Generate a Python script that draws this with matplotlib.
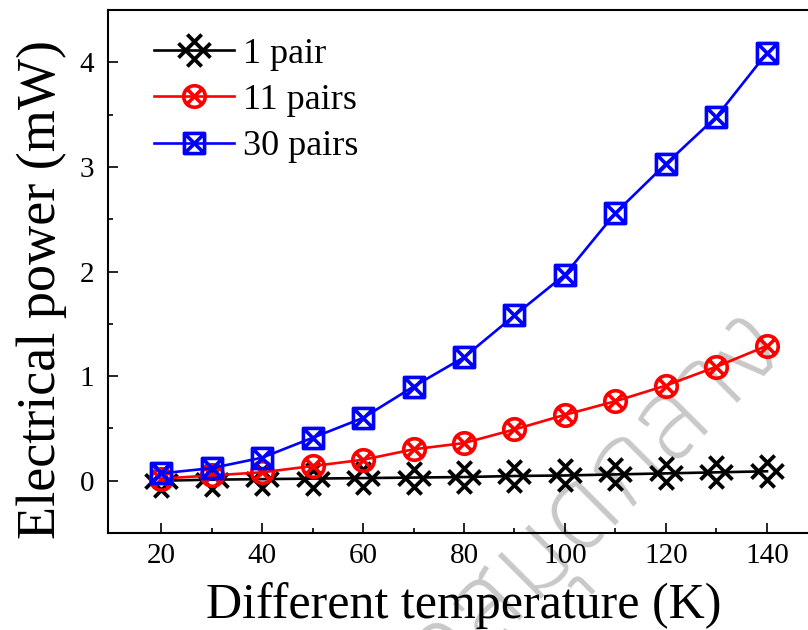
import matplotlib
matplotlib.use("Agg")
import matplotlib.pyplot as plt
import numpy as np
from matplotlib.path import Path
from matplotlib import font_manager
from matplotlib.font_manager import FontProperties
from matplotlib.ft2font import FT2Font

# ---------------- data ----------------
temperature = [20, 30, 40, 50, 60, 70, 80, 90, 100, 110, 120, 130, 140]
power_1pair = [0.00, 0.01, 0.015, 0.02, 0.025, 0.03, 0.035, 0.045, 0.05, 0.06, 0.07, 0.08, 0.09]
power_11pairs = [0.02, 0.05, 0.08, 0.14, 0.20, 0.30, 0.36, 0.49, 0.63, 0.76, 0.91, 1.09, 1.29]
power_30pairs = [0.07, 0.12, 0.22, 0.41, 0.60, 0.90, 1.18, 1.58, 1.97, 2.56, 3.03, 3.48, 4.09]
series_labels = ["1 pair", "11 pairs", "30 pairs"]
x_ticks = [20, 40, 60, 80, 100, 120, 140]
y_ticks = [0, 1, 2, 3, 4]
x_label = "Different temperature (K)"
y_label = "Electrical power (mW)"
watermark = "สำนักหอสมุดกลาง"

plt.rcParams['font.family'] = ['Liberation Serif', 'DejaVu Serif']
plt.rcParams['path.simplify'] = False


def line_path(segments, extra=None):
    verts, codes = [], []
    if extra is not None:
        verts.extend(extra.vertices.tolist())
        codes.extend(extra.codes.tolist())
    for a, b in segments:
        verts += [a, b]
        codes += [Path.MOVETO, Path.LINETO]
    return Path(verts, codes)


c = 0.55
m_black = line_path([((-1, c - 1), (1 - c, 1)), ((c - 1, -1), (1, 1 - c)),
                     ((c - 1, 1), (1, c - 1)), ((-1, 1 - c), (1 - c, -1))])
d = 0.78
m_red = line_path([((-d, -d), (d, d)), ((-d, d), (d, -d))], extra=Path.unit_circle())
sq = Path([(-1, -1), (1, -1), (1, 1), (-1, 1), (-1, -1)],
          [Path.MOVETO, Path.LINETO, Path.LINETO, Path.LINETO, Path.CLOSEPOLY])
m_blue = line_path([((-1, -1), (1, 1)), ((-1, 1), (1, -1))], extra=sq)

fig = plt.figure(figsize=(8.08, 6.30), dpi=100)
ax = fig.add_axes([108 / 808, 97 / 630, 712 / 808, 523 / 630])
ax.patch.set_facecolor('none')


def weight_num(w):
    table = {'ultralight': 100, 'thin': 100, 'extra light': 200, 'light': 300,
             'normal': 400, 'regular': 400, 'book': 400, 'medium': 500,
             'semibold': 600, 'demibold': 600, 'bold': 700, 'heavy': 800,
             'extra bold': 800, 'black': 900}
    if isinstance(w, (int, float)):
        return w
    return table.get(str(w).lower(), 400)


# watermark: Thai-capable font with weight closest to "light"
thai_path, best = None, None
for f in font_manager.fontManager.ttflist:
    try:
        if 'italic' in str(f.style).lower():
            continue
        ft = FT2Font(f.fname)
        if ft.get_char_index(ord('ก')) and ft.get_char_index(ord('ง')):
            w = weight_num(f.weight)
            score = abs(w - 320)
            if best is None or score < best:
                best, thai_path = score, f.fname
    except Exception:
        pass
if thai_path is not None:
    ax.text(788 / 808, 1 - 346 / 630, watermark,
            fontproperties=FontProperties(fname=thai_path, size=86),
            color='#c8c8c8', rotation=45, rotation_mode='anchor', transform=fig.transFigure,
            ha='right', va='baseline', zorder=0.5, clip_on=False)

ax.plot(temperature, power_1pair, color='black', lw=1.9, marker=m_black, ms=23,
        mfc='none', mec='black', mew=2.7, label=series_labels[0], zorder=3)
ax.plot(temperature, power_11pairs, color='red', lw=1.9, marker=m_red, ms=15.5,
        mfc='none', mec='red', mew=2.6, label=series_labels[1], zorder=4)
ax.plot(temperature, power_30pairs, color='blue', lw=1.9, marker=m_blue, ms=14.5,
        mfc='none', mec='blue', mew=2.6, label=series_labels[2], zorder=5)

ax.set_xlim(9.5, 150.5)
ax.set_ylim(-0.5, 4.5)
ax.set_xticks(x_ticks)
ax.set_xticks(np.arange(30, 141, 20), minor=True)
ax.set_yticks(y_ticks)
ax.set_yticks(np.arange(-0.5, 4.6, 1.0), minor=True)
ax.set_xticklabels([str(v) for v in x_ticks])
ax.set_yticklabels([str(v) for v in y_ticks])

ax.tick_params(axis='both', which='major', direction='in', length=7, width=1.2,
               labelsize=21, top=False, right=False)
ax.tick_params(axis='x', which='major', pad=7)
ax.tick_params(axis='y', which='major', pad=10)
ax.tick_params(axis='both', which='minor', direction='in', length=3.6, width=1.2,
               top=False, right=False)
for s in ['left', 'bottom', 'top']:
    ax.spines[s].set_linewidth(1.5)
ax.spines['right'].set_visible(False)

ax.set_xlabel(x_label, fontsize=36)
ax.xaxis.set_label_coords(0.5, -0.093)
ax.set_ylabel(y_label, fontsize=39)
ax.yaxis.set_label_coords(-0.058, 0.465)

ax.legend(loc='upper left', bbox_to_anchor=(0.045, 0.975), frameon=False, fontsize=26,
          handlelength=2.2, handletextpad=0.25, labelspacing=0.36, borderaxespad=0,
          numpoints=1)

fig.savefig('out.png', dpi=100)
